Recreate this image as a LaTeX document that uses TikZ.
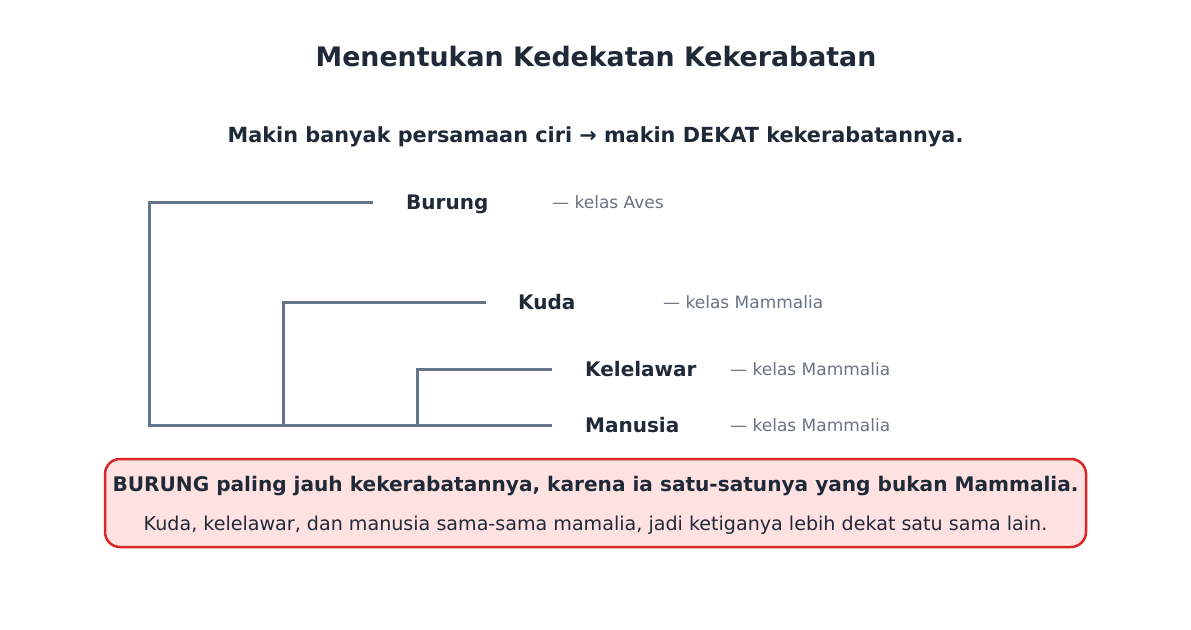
\documentclass[tikz,border=0pt]{standalone}
\usepackage{fontspec}
\setmainfont{DejaVu Sans}
\definecolor{ink}{HTML}{1F2937}
\definecolor{branch}{HTML}{64748B}
\definecolor{muted}{HTML}{6B7280}
\definecolor{boxfill}{HTML}{FEE2E2}
\definecolor{boxline}{HTML}{DC2626}
\begin{document}
\begin{tikzpicture}[x=1pt,y=-1pt,
  br/.style={draw=branch,line width=3pt,line cap=butt,line join=miter},
  taxon/.style={anchor=base west,inner sep=0pt,text=ink,font=\fontsize{20}{24}\selectfont\bfseries},
  kelas/.style={anchor=base west,inner sep=0pt,text=muted,font=\fontsize{17}{20}\selectfont},
]
\useasboundingbox (0,0) rectangle (1191,629);
\fill[white] (0,0) rectangle (1191,629);
\node[anchor=base,inner sep=0pt,text=ink,font=\fontsize{26.8}{30}\selectfont\bfseries] (title) at (596,66.8) {Menentukan Kedekatan Kekerabatan};
\node[anchor=base,inner sep=0pt,text=ink,font=\fontsize{20.8}{24}\selectfont\bfseries] (sub) at (595.5,142.6) {Makin banyak persamaan ciri → makin DEKAT kekerabatannya.};
% tree
\coordinate (r0) at (149,202);
\coordinate (r1) at (149,425);
\coordinate (b1) at (373,202);
\coordinate (k0) at (283,302);
\coordinate (k1) at (283,425);
\coordinate (kE) at (486,302);
\coordinate (l0) at (417,369);
\coordinate (l1) at (417,425);
\coordinate (lE) at (552,369);
\coordinate (mE) at (552,425);
\draw[br] (b1) -- (r0) -- (r1) -- (mE);
\draw[br] (kE) -- (k0) -- (k1);
\draw[br] (lE) -- (l0) -- (l1);
\node[taxon] (burung) at (406,209.3) {Burung};
\node[kelas] (aves) at (552,208.2) {— kelas Aves};
\node[taxon] (kuda) at (518,309.3) {Kuda};
\node[kelas] (kudak) at (663,308.2) {— kelas Mammalia};
\node[taxon] (kel) at (585,376.3) {Kelelawar};
\node[kelas] (kelk) at (730,375.2) {— kelas Mammalia};
\node[taxon] (man) at (585,432.3) {Manusia};
\node[kelas] (mank) at (730,431.2) {— kelas Mammalia};
% box
\draw[draw=boxline,fill=boxfill,line width=2.5pt,rounded corners=15pt] (105,459) rectangle (1086,547);
\node[anchor=base,inner sep=0pt,text=ink,font=\fontsize{20.1}{24}\selectfont\bfseries] (n1) at (595.5,491.3) {BURUNG paling jauh kekerabatannya, karena ia satu-satunya yang bukan Mammalia.};
\node[anchor=base,inner sep=0pt,text=ink,font=\fontsize{19.1}{22}\selectfont] (n2) at (595.5,530) {Kuda, kelelawar, dan manusia sama-sama mamalia, jadi ketiganya lebih dekat satu sama lain.};
\end{tikzpicture}
\end{document}
